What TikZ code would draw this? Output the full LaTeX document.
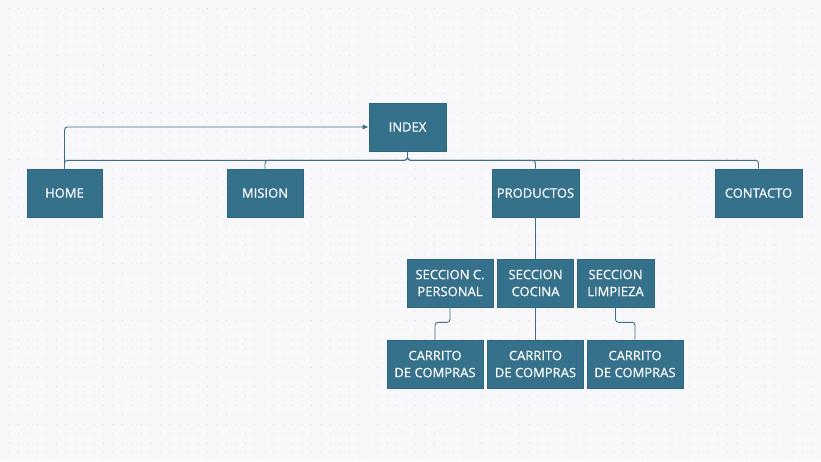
\documentclass[tikz,border=0pt]{standalone}
\usepackage{fontspec}
\setmainfont{Open Sans}
\newfontfamily\boxfont[FakeBold=0.35]{Open Sans}
\usetikzlibrary{arrows.meta}
\definecolor{bg}{HTML}{F8F8FA}
\definecolor{dotc}{HTML}{DADAE0}
\definecolor{boxfill}{HTML}{36718C}
\definecolor{boxedge}{HTML}{2E6580}
\definecolor{linec}{HTML}{3F6F86}
\tikzset{
  box/.style={rectangle, fill=boxfill, draw=boxedge, line width=0.6pt, text=white,
    font=\boxfont\fontsize{13}{17}\selectfont, align=center, inner sep=0pt,
    text depth=0pt},
  link/.style={draw=linec, line width=0.9pt, rounded corners=3pt},
}
\begin{document}
\begin{tikzpicture}[x=1pt,y=-1pt]
\fill[bg] (0,0) rectangle (821,461);
\useasboundingbox (0,0) rectangle (821,461);
\foreach \i in {0,...,86}{\foreach \j in {0,...,48}{
  \fill[dotc] (9+9.45*\i,8.5+9.45*\j) circle (0.55pt);}}
\node[box, minimum width=77pt, minimum height=48pt] (index) at (407.5,127) {INDEX};
\node[box, minimum width=75pt, minimum height=48pt] (home) at (64.5,193) {HOME};
\node[box, minimum width=76pt, minimum height=48pt] (mision) at (265,193) {MISION};
\node[box, minimum width=87pt, minimum height=48pt] (prod) at (535.5,193) {PRODUCTOS};
\node[box, minimum width=87pt, minimum height=48pt] (cont) at (758.5,193) {CONTACTO};
\node[box, minimum width=86pt, minimum height=48pt] (scp) at (450,283) {SECCION C.\\PERSONAL};
\node[box, minimum width=76pt, minimum height=48pt] (scoc) at (535.5,283) {SECCION\\COCINA};
\node[box, minimum width=77pt, minimum height=48pt] (slim) at (615.5,283) {SECCION\\LIMPIEZA};
\node[box, minimum width=96pt, minimum height=48pt] (car1) at (435,364) {CARRITO\\DE COMPRAS};
\node[box, minimum width=96pt, minimum height=48pt] (car2) at (535.5,364) {CARRITO\\DE COMPRAS};
\node[box, minimum width=96pt, minimum height=48pt] (car3) at (635,364) {CARRITO\\DE COMPRAS};
\draw[link, -{Latex[length=6pt,width=5pt]}] (home.north) |- (index.west);
\draw[link] (index.south) -- ++(0,9) -| (home.north);
\draw[link] (index.south) -- ++(0,9) -| (mision.north);
\draw[link] (index.south) -- ++(0,9) -| (prod.north);
\draw[link] (index.south) -- ++(0,9) -| (cont.north);
\draw[link] (prod.south) -- (scoc.north);
\draw[link] (scoc.south) -- (car2.north);
\draw[link] (scp.south) -- ++(0,15) -| (car1.north);
\draw[link] (slim.south) -- ++(0,15) -| (car3.north);
\end{tikzpicture}
\end{document}
